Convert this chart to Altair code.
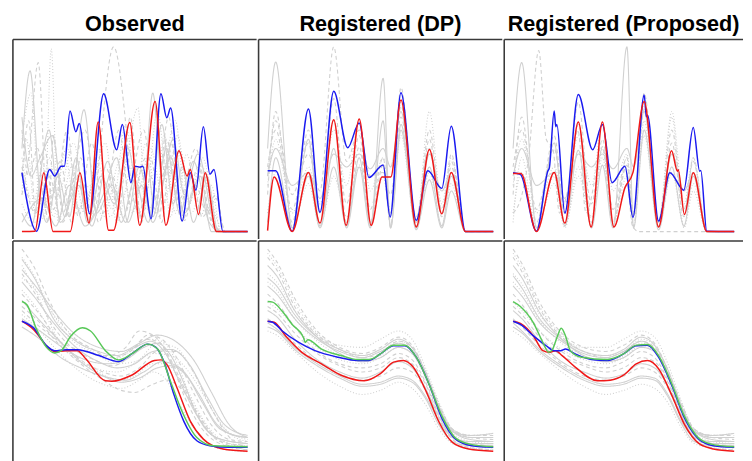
import altair as alt
import pandas as pd

# ---------------- titles ----------------
titles = ["Observed", "Registered (DP)", "Registered (Proposed)"]

# ================= TOP ROW (x 0..100, y 0..100) =================
# Observed - highlighted curves (x, y)
obs_top_blue = [(0, 31.9), (6.5, 0.2), (12.3, 33.6), (14.5, 30.1), (17.4, 35.4), (18.8, 35.4),
                (21.3, 65.3), (23.9, 54.1), (25.4, 58.5), (30.0, 9.6), (36.2, 74.6), (42.0, 44.3),
                (44.5, 58.0), (48.3, 26.5), (50.0, 35.4), (52.2, 34.9), (53.6, 35.4), (57.2, 6.9),
                (61.6, 74.6), (64.2, 61.6), (65.9, 66.9), (71.0, 5.7), (74.6, 31.9), (77.1, 22.4),
                (80.4, 56.8), (83.3, 31.0), (85.1, 33.6), (89.1, 0.0), (100, 0.0)]
obs_top_red = [(0, 0), (5.8, 0.2), (9.7, 31.9), (13.8, 0), (21.4, 0), (25.7, 31.9), (29.7, 4.6),
               (33.8, 59.4), (38.4, 0.7), (40.6, 0.7), (47.8, 59.1), (52.2, 3.4), (59.0, 70.5),
               (63.8, 3.4), (69.6, 43.8), (73.2, 30.1), (74.6, 33.6), (78.3, 9.3), (81.2, 31.9),
               (86.2, 0), (100, 0)]
# Observed - grey sample curves
obs_top_g1 = [(0, 45), (3.6, 87), (8, 20), (11, 5), (16, 30), (21, 8), (27.5, 66), (33, 10), (40, 25),
              (46, 5), (52, 35), (58, 8), (64, 45), (70, 10), (76, 38), (83, 5), (88, 0), (100, 0)]
obs_top_g2 = [(0, 20), (3, 40), (7.2, 91.5), (11.5, 5), (14, 52), (18, 10), (24, 30), (30, 5),
              (40.6, 100), (45.7, 62), (48, 30), (52, 10), (57, 40), (62, 5), (66, 48), (72, 6),
              (78, 35), (84, 5), (88, 0), (100, 0)]
obs_top_g3 = [(0, 15), (5, 5), (10, 8), (13, 99), (16, 5), (22, 35), (28, 10), (34, 45), (39, 8),
              (45, 30), (51.4, 67), (55, 12), (60, 20), (63, 52), (68, 10), (73, 42), (79, 8),
              (84, 25), (88, 0), (100, 0)]
obs_top_g4 = [(0, 62), (4, 30), (8, 40), (13.5, 52), (19, 8), (24, 40), (29, 5), (35, 30), (41, 15),
              (47, 45), (53, 8), (58, 75), (62, 30), (67, 50), (72, 20), (78, 42), (85, 5), (89, 0),
              (100, 0)]
obs_top_g5 = [(0, 55), (3, 30), (7, 45), (11, 10), (17, 38), (22, 5), (26, 40), (31, 8), (37, 35),
              (43, 12), (48, 62), (53, 5), (57, 30), (61, 8), (64, 50), (70, 15), (75, 30), (80, 8),
              (86, 20), (90, 0), (100, 0)]
obs_top_g6 = [(0, 40), (5, 15), (9, 35), (14, 8), (19, 42), (24, 10), (30, 25), (36, 8), (44, 40),
              (49, 10), (55, 48), (60, 15), (68, 60), (73, 12), (80, 35), (86, 0), (100, 0)]
obs_top_g7 = [(0, 10), (4, 3), (12, 55), (17, 5), (25, 25), (31, 3), (38, 38), (44, 5), (50, 28),
              (56, 5), (62, 58), (67, 15), (71, 35), (76, 5), (82, 30), (87, 0), (100, 0)]
obs_top_g8 = [(0, 35), (6, 10), (12, 30), (18, 5), (28, 55), (34, 5), (40, 30), (45, 8), (54, 55),
              (59, 10), (65, 35), (71, 6), (77, 25), (82, 10), (86, 18), (90, 0), (100, 0)]
obs_top_g9 = [(0, 20), (2, 50), (6, 8), (15, 28), (20, 45), (26, 10), (32, 30), (37, 48), (42, 5),
              (49, 35), (55, 20), (60, 65), (66, 8), (70, 45), (75, 10), (81, 28), (87, 0), (100, 0)]
obs_top_g10 = [(0, 5), (9, 18), (15, 3), (21, 25), (28, 3), (36, 20), (42, 40), (47, 5), (53, 25),
               (58, 5), (66, 40), (72, 10), (79, 30), (84, 0), (100, 0)]
obs_top_g11 = [(0, 30), (3, 60), (6, 10), (10, 45), (14, 12), (20, 55), (25, 8), (31, 48), (36, 10),
               (43, 55), (48, 15), (55, 40), (59, 12), (65, 62), (70, 18), (77, 45), (83, 10), (88, 0), (100, 0)]
obs_top_g12 = [(0, 50), (4, 75), (8, 15), (12, 40), (16, 20), (23, 48), (28, 15), (34, 35), (40, 12),
               (46, 58), (51, 20), (57, 45), (63, 15), (69, 52), (74, 18), (80, 40), (86, 8), (90, 0), (100, 0)]

# Registered (DP) - highlighted curves
dp_top_blue = [(0, 32.9), (3.6, 32.9), (10.9, 0.2), (18.1, 66.4), (23.2, 10.5), (29.3, 76.0),
               (35.5, 45.4), (40.6, 58.8), (44.9, 29.3), (51.2, 36.1), (54.3, 7.9), (59.1, 75.2),
               (65.9, 6.1), (71.0, 32.9), (77.2, 23.4), (81.4, 57.0), (87.7, 0), (100, 0)]
dp_top_red = [(0, 0.5), (2.9, 29.6), (10.9, 0), (18.1, 32.0), (23.2, 4.6), (29.3, 60.5), (34.8, 3.4),
              (40.6, 61.0), (45.9, 3.4), (50.7, 29.6), (54.6, 29.6), (59.1, 71.3), (65.9, 2.5),
              (71.7, 44.5), (77.2, 9.6), (81.4, 32.0), (87.7, 0), (100, 0)]
# Registered (DP) - grey curves, values at common extrema positions
dp_top_x = [0, 3.6, 10.9, 18.1, 23.2, 29.3, 35.0, 40.6, 45.5, 51.2, 54.5, 59.1, 65.9, 71.7, 77.2, 81.4, 87.7, 100]
dp_top_g1 = [45, 91.8, 2, 50, 3, 45, 2, 35, 2, 83, 2, 55, 1, 35, 3, 30, 0, 0]
dp_top_g2 = [30, 60, 20, 42, 22, 100, 38, 55, 30, 32, 20, 62, 8, 45, 10, 35, 0, 0]
dp_top_g3 = [25, 50, 10, 35, 15, 55, 25, 60, 22, 40, 10, 70, 5, 65, 15, 40, 0, 0]
dp_top_g4 = [30, 45, 25, 32, 18, 42, 35, 42, 34, 45, 35, 65, 5, 42, 22, 32, 0, 0]
dp_top_g5 = [20, 65, 5, 55, 10, 72, 5, 46, 5, 36, 3, 78, 3, 50, 8, 42, 0, 0]
dp_top_g6 = [10, 32, 3, 26, 3, 30, 8, 36, 5, 30, 10, 52, 2, 32, 3, 26, 0, 0]
dp_top_g7 = [35, 55, 12, 48, 10, 60, 15, 52, 12, 40, 8, 68, 6, 55, 12, 38, 0, 0]
dp_top_g8 = [5, 40, 2, 30, 2, 35, 3, 40, 3, 60, 2, 58, 2, 28, 2, 22, 0, 0]

# Registered (Proposed) - highlighted curves
pr_top_blue = [(0, 31.9), (3.3, 31.0), (10.6, 0.2), (15.7, 32.7), (16.4, 34.5), (18.6, 65.3),
               (19.3, 56.8), (19.8, 58.0), (23.4, 10.0), (29.5, 74.2), (36.0, 44.3), (40.4, 58.0),
               (44.8, 26.5), (50.6, 35.4), (54.2, 7.8), (59.3, 74.0), (60.3, 62.1), (60.8, 63.0),
               (65.8, 5.7), (70.9, 31.9), (77.2, 22.4), (81.5, 56.4), (84.4, 32.7), (84.9, 33.1),
               (87.6, 0.2), (100, 0)]
pr_top_red = [(0, 31.5), (3.6, 31.4), (10.6, 0), (18.6, 32.0), (23.4, 4.6), (29.5, 59.3), (35.3, 2.5),
              (40.4, 59.3), (45.6, 2.5), (50.6, 23.8), (54.2, 31.9), (59.3, 70.4), (65.8, 2.5),
              (71.7, 43.8), (74.3, 32.7), (74.7, 33.5), (77.5, 9.3), (81.5, 31.9), (87.6, 0), (100, 0)]
pr_top_x = [0, 3.9, 10.6, 18.6, 23.4, 29.5, 35.5, 40.4, 45.2, 51.5, 54.5, 59.3, 65.8, 71.8, 77.3, 81.5, 87.6, 100]
pr_top_g1 = [45, 91.5, 2, 48, 3, 44, 2, 36, 2, 100, 2, 55, 1, 35, 3, 30, 0, 0]
pr_top_g3 = [25, 50, 10, 35, 15, 52, 25, 58, 22, 42, 10, 68, 5, 65, 15, 40, 0, 0]
pr_top_g4 = [30, 45, 25, 32, 18, 42, 35, 42, 34, 45, 35, 65, 5, 42, 22, 32, 0, 0]
pr_top_g5 = [20, 62, 5, 52, 10, 70, 5, 46, 5, 36, 3, 75, 3, 48, 8, 40, 0, 0]
pr_top_g6 = [10, 32, 3, 26, 3, 30, 8, 40, 5, 30, 10, 52, 2, 32, 3, 26, 0, 0]
pr_top_g7 = [35, 55, 12, 45, 10, 58, 15, 50, 12, 40, 8, 66, 6, 55, 12, 38, 0, 0]
pr_top_g8 = [5, 40, 2, 30, 2, 35, 3, 45, 3, 40, 2, 60, 2, 62, 2, 22, 0, 0]
pr_top_g2 = [(0, 10), (4, 20), (7, 40), (11.6, 98), (15, 50), (18, 45), (21, 10), (26, 30), (29.3, 55),
             (33, 10), (40.6, 45), (45, 5), (51, 35), (54, 3), (57, 0), (100, 0)]

# ================= BOTTOM ROW (x 0..100, y 0..100) =================
obs_bot_blue = [(0, 64.8), (5.1, 61.6), (10.9, 52.8), (14.5, 50.4), (19.6, 50.9), (24.6, 50.9),
                (34.1, 48.0), (42.8, 45.1), (48.6, 48.8), (55.8, 53.6), (59.4, 52.0), (63.0, 44.8),
                (67.4, 28.8), (71.7, 16.0), (77.5, 6.4), (83.3, 4.0), (92.0, 3.2), (100, 3.2)]
obs_bot_red = [(0, 64.8), (5.1, 60.8), (12.3, 51.2), (14.5, 49.9), (19.6, 50.4), (24.6, 50.4),
               (28.3, 46.4), (37.0, 35.7), (39.9, 35.5), (48.6, 38.4), (58.7, 45.6), (61.6, 45.9),
               (64.5, 43.2), (68.8, 32.0), (74.6, 16.0), (80.4, 7.2), (89.1, 2.4), (100, 1.3)]
obs_bot_green = [(0, 74.4), (2.2, 72.8), (6.5, 60.8), (10.9, 52.0), (14.5, 49.3), (17.4, 50.4),
                 (21.7, 57.6), (26.8, 61.6), (30.4, 60.0), (37.0, 50.4), (42.8, 45.9), (48.6, 48.8),
                 (55.8, 53.6), (60.1, 51.2), (65.9, 35.2), (70.3, 22.4), (77.5, 8.0), (84.8, 4.0),
                 (100, 3.5)]
obs_bot_g1 = [(0, 95), (6, 85), (14, 66), (24, 55), (34, 50), (42, 48), (50, 52), (57, 55), (63, 50), (70, 35), (78, 18), (86, 8), (100, 5)]
obs_bot_g2 = [(0, 100), (5, 92), (12, 75), (20, 60), (30, 52), (40, 47), (48, 50), (56, 58), (62, 56), (68, 48), (76, 30), (84, 14), (92, 7), (100, 6)]
obs_bot_g3 = [(0, 80), (6, 72), (14, 58), (24, 47), (34, 40), (42, 36), (50, 38), (58, 44), (64, 44), (70, 36), (78, 20), (86, 8), (100, 3)]
obs_bot_g4 = [(0, 75), (8, 65), (16, 56), (26, 45), (36, 38), (44, 35), (52, 37), (60, 42), (66, 43), (73, 38), (80, 25), (88, 12), (100, 8)]
obs_bot_g5 = [(0, 88), (6, 78), (14, 62), (22, 52), (32, 46), (40, 43), (48, 48), (54, 56), (60, 55), (66, 45), (72, 28), (80, 12), (90, 4), (100, 2)]
obs_bot_g6 = [(0, 68), (8, 60), (16, 50), (26, 40), (36, 34), (44, 32), (52, 36), (58, 40), (64, 36), (70, 24), (78, 10), (86, 3), (100, 1)]
obs_bot_g7 = [(0, 84), (6, 76), (14, 64), (24, 52), (34, 45), (42, 42), (50, 44), (58, 50), (66, 51), (74, 44), (82, 28), (90, 14), (100, 9)]
obs_bot_g8 = [(0, 70), (8, 62), (18, 54), (28, 50), (38, 48), (46, 52), (52, 60), (58, 58), (64, 50), (72, 32), (80, 15), (88, 6), (100, 4)]
obs_bot_g9 = [(0, 92), (6, 80), (14, 60), (22, 48), (32, 42), (42, 40), (52, 46), (60, 54), (68, 52), (76, 40), (84, 22), (92, 10), (100, 6)]
obs_bot_g10 = [(0, 62), (8, 56), (16, 48), (26, 42), (36, 38), (46, 36), (54, 40), (62, 45), (70, 42), (78, 30), (86, 15), (94, 9), (100, 8)]
obs_bot_g11 = [(0, 78), (8, 68), (16, 56), (26, 46), (36, 40), (44, 38), (52, 42), (60, 50), (68, 50), (76, 40), (84, 22), (92, 8), (100, 3)]
obs_bot_g12 = [(0, 96), (6, 86), (12, 72), (20, 58), (30, 50), (40, 46), (48, 50), (56, 56), (62, 55), (68, 46), (74, 30), (82, 14), (92, 5), (100, 4)]
obs_bot_g13 = [(0, 90), (6, 82), (14, 70), (24, 58), (34, 52), (44, 50), (52, 54), (60, 58), (68, 55), (76, 46), (84, 30), (92, 14), (100, 8)]
obs_bot_g14 = [(0, 72), (8, 64), (16, 54), (26, 44), (36, 36), (44, 31), (50, 30), (58, 34), (64, 36), (72, 30), (80, 16), (88, 6), (100, 2)]
obs_bot_g15 = [(0, 86), (6, 80), (14, 68), (24, 56), (34, 48), (42, 44), (50, 45), (58, 49), (66, 48), (74, 40), (82, 26), (90, 12), (100, 7)]
obs_bot_g16 = [(0, 66), (8, 60), (18, 52), (28, 46), (38, 44), (46, 46), (54, 52), (60, 54), (66, 48), (72, 34), (78, 18), (86, 8), (100, 5)]

dp_bot_blue = [(0, 64.8), (2.2, 64.3), (6.5, 60.0), (13.8, 54.4), (21.0, 50.4), (31.2, 47.2), (39.9, 45.6),
               (44.9, 45.6), (50.0, 48.8), (55.8, 52.8), (60.9, 52.8), (65.9, 47.2), (71.7, 33.6),
               (77.5, 16.8), (83.3, 7.2), (90.6, 4.0), (100, 3.2)]
dp_bot_green = [(0, 74.4), (2.2, 74.1), (6.5, 69.6), (10.9, 63.2), (15.9, 56.8), (16.7, 54.4),
                (17.8, 55.7), (23.9, 51.2), (32.6, 48.0), (39.9, 46.1), (44.9, 46.1), (50.0, 48.8),
                (55.8, 53.1), (60.9, 53.1), (65.9, 47.2), (71.7, 33.6), (77.5, 17.9), (83.3, 7.7),
                (90.6, 4.5), (100, 3.5)]
dp_bot_red = [(0, 64.8), (2.9, 64.3), (8.0, 57.6), (15.2, 49.6), (23.9, 44.0), (32.6, 38.4), (42.8, 35.7),
              (50.0, 39.2), (55.8, 44.8), (60.1, 45.6), (64.5, 42.4), (70.3, 30.4), (76.1, 15.2),
              (81.9, 5.6), (89.1, 2.4), (100, 1.3)]
bot_x = [0, 4, 12, 22, 32, 42, 50, 58, 64, 70, 76, 82, 90, 100]
dp_bot_g1 = [82, 78, 66, 56, 50, 47, 50, 54, 50, 38, 22, 11, 7, 6]
dp_bot_g2 = [100, 94, 76, 60, 52, 49, 52, 57, 53, 40, 24, 12, 8, 7]
dp_bot_g3 = [88, 84, 70, 58, 53, 52, 56, 60, 56, 42, 25, 12, 8, 8]
dp_bot_g4 = [70, 67, 56, 46, 40, 37, 40, 45, 42, 32, 18, 8, 5, 5]
dp_bot_g5 = [78, 74, 62, 50, 44, 42, 44, 49, 46, 35, 20, 9, 5, 4]
dp_bot_g6 = [60, 58, 50, 40, 33, 29, 31, 35, 32, 24, 12, 5, 3, 2]
dp_bot_g7 = [92, 87, 70, 57, 49, 45, 47, 52, 49, 38, 22, 11, 9, 10]
dp_bot_g8 = [66, 63, 54, 45, 39, 36, 38, 42, 40, 31, 17, 7, 3, 2]
dp_bot_g9 = [74, 71, 62, 52, 46, 44, 47, 52, 49, 37, 21, 10, 6, 5]
dp_bot_g10 = [64, 61, 52, 44, 38, 34, 35, 38, 36, 28, 16, 8, 6, 6]
dp_bot_g11 = [96, 90, 72, 58, 51, 47, 49, 55, 52, 39, 23, 12, 9, 9]
dp_bot_g12 = [84, 80, 66, 55, 48, 45, 48, 54, 51, 39, 22, 10, 4, 3]
dp_bot_g13 = [86, 82, 68, 57, 51, 48, 51, 56, 52, 40, 23, 11, 8, 8]
dp_bot_g14 = [72, 69, 59, 49, 43, 40, 42, 47, 44, 34, 19, 8, 4, 3]
dp_bot_g15 = [98, 92, 74, 59, 51, 48, 50, 55, 52, 40, 24, 12, 9, 10]
dp_bot_g16 = [62, 60, 51, 43, 37, 33, 34, 37, 35, 27, 14, 6, 4, 4]

pr_bot_blue = [(0, 64.8), (3.3, 63.2), (9.2, 57.6), (15.0, 52.8), (18.6, 50.4), (21.5, 50.4),
               (23.7, 51.2), (28.1, 48.8), (35.3, 46.1), (42.6, 45.6), (49.9, 48.8), (55.7, 52.8),
               (60.8, 53.1), (65.8, 47.2), (71.7, 33.6), (77.5, 17.6), (84.0, 7.2), (90.6, 4.0), (100, 3.2)]
pr_bot_green = [(0, 74.4), (3.3, 72.0), (9.2, 64.0), (13.5, 54.4), (16.1, 49.6), (17.9, 51.2),
                (20.1, 57.6), (21.8, 61.3), (23.7, 57.6), (25.9, 50.4), (31.0, 47.2), (42.6, 46.1),
                (49.9, 48.8), (55.7, 53.1), (60.8, 53.4), (65.8, 48.0), (71.7, 34.4), (77.5, 18.4),
                (84.0, 7.7), (90.6, 4.5), (100, 3.5)]
pr_bot_red = [(0, 64.8), (3.3, 63.7), (9.2, 57.6), (13.5, 50.4), (16.3, 49.6), (19.2, 50.4), (22.2, 48.0),
              (28.1, 42.4), (38.2, 35.7), (44.0, 36.0), (49.9, 38.4), (55.7, 44.0), (60.8, 45.6),
              (65.8, 41.6), (71.7, 28.8), (77.5, 14.4), (84.0, 5.1), (90.6, 2.4), (100, 1.3)]
pr_bot_g1 = [82, 77, 64, 55, 49, 47, 50, 55, 51, 39, 22, 11, 7, 6]
pr_bot_g2 = [100, 93, 74, 59, 52, 50, 53, 58, 54, 41, 25, 12, 8, 7]
pr_bot_g3 = [88, 83, 68, 57, 52, 52, 56, 60, 57, 44, 26, 12, 8, 8]
pr_bot_g4 = [70, 66, 55, 45, 40, 37, 39, 44, 42, 33, 19, 8, 5, 5]
pr_bot_g5 = [78, 73, 60, 50, 44, 42, 45, 50, 47, 36, 20, 9, 5, 4]
pr_bot_g6 = [60, 57, 49, 40, 33, 29, 31, 34, 32, 25, 13, 5, 3, 2]
pr_bot_g7 = [92, 86, 69, 56, 48, 45, 47, 52, 50, 39, 23, 11, 9, 10]
pr_bot_g8 = [66, 62, 53, 44, 38, 36, 38, 42, 40, 32, 18, 7, 3, 2]
pr_bot_g9 = [74, 70, 60, 51, 46, 44, 47, 53, 50, 38, 21, 10, 6, 5]
pr_bot_g10 = [64, 60, 51, 43, 37, 34, 35, 38, 37, 29, 16, 8, 6, 6]
pr_bot_g11 = [96, 89, 71, 57, 50, 47, 50, 55, 52, 40, 23, 12, 9, 9]
pr_bot_g12 = [84, 79, 65, 54, 48, 45, 48, 54, 51, 39, 22, 10, 4, 3]
pr_bot_g13 = [87, 81, 66, 56, 50, 48, 51, 57, 53, 41, 24, 11, 8, 8]
pr_bot_g14 = [72, 68, 57, 48, 43, 40, 42, 47, 45, 35, 19, 8, 4, 3]
pr_bot_g15 = [98, 91, 72, 58, 50, 48, 50, 56, 53, 41, 24, 12, 9, 10]
pr_bot_g16 = [62, 59, 50, 42, 36, 33, 34, 37, 36, 28, 15, 6, 4, 4]

DASHES = ["solid", "dashed", "dotted"]

# ---------------- build long table ----------------
rows = []


def add(panel, name, kind, dash, pts):
    for i, (x, y) in enumerate(pts):
        rows.append(dict(panel=panel, curve=name, kind=kind, dash=dash, i=i, x=x, y=y))


def add_xy(panel, name, kind, dash, xs, ys):
    add(panel, name, kind, dash, list(zip(xs, ys)))


obs_top_grays = [obs_top_g1, obs_top_g2, obs_top_g3, obs_top_g4, obs_top_g5, obs_top_g6,
                 obs_top_g7, obs_top_g8, obs_top_g9, obs_top_g10, obs_top_g11, obs_top_g12]
for k, g in enumerate(obs_top_grays):
    add("t0", f"g{k}", "gray", DASHES[k % 3], g)
add("t0", "blue", "blue", "solid", obs_top_blue)
add("t0", "red", "red", "solid", obs_top_red)

dp_top_grays = [dp_top_g1, dp_top_g2, dp_top_g3, dp_top_g4, dp_top_g5, dp_top_g6, dp_top_g7, dp_top_g8]
dp_top_dash = ["solid", "dashed", "dotted", "solid", "dashed", "dotted", "dashed", "solid"]
for k, g in enumerate(dp_top_grays):
    add_xy("t1", f"g{k}", "gray", dp_top_dash[k], dp_top_x, g)
add("t1", "blue", "blue", "solid", dp_top_blue)
add("t1", "red", "red", "solid", dp_top_red)

pr_top_grays = [pr_top_g1, pr_top_g3, pr_top_g4, pr_top_g5, pr_top_g6, pr_top_g7, pr_top_g8]
pr_top_dash = ["solid", "dotted", "solid", "dashed", "dotted", "dashed", "dotted"]
for k, g in enumerate(pr_top_grays):
    add_xy("t2", f"g{k}", "gray", pr_top_dash[k], pr_top_x, g)
add("t2", "gsp", "gray", "dashed", pr_top_g2)
add("t2", "blue", "blue", "solid", pr_top_blue)
add("t2", "red", "red", "solid", pr_top_red)

obs_bot_grays = [obs_bot_g1, obs_bot_g2, obs_bot_g3, obs_bot_g4, obs_bot_g5, obs_bot_g6,
                 obs_bot_g7, obs_bot_g8, obs_bot_g9, obs_bot_g10, obs_bot_g11, obs_bot_g12,
                 obs_bot_g13, obs_bot_g14, obs_bot_g15, obs_bot_g16]
for k, g in enumerate(obs_bot_grays):
    add("b0", f"g{k}", "gray", DASHES[k % 3], g)
add("b0", "red", "red", "solid", obs_bot_red)
add("b0", "blue", "blue", "solid", obs_bot_blue)
add("b0", "green", "green", "solid", obs_bot_green)

dp_bot_grays = [dp_bot_g1, dp_bot_g2, dp_bot_g3, dp_bot_g4, dp_bot_g5, dp_bot_g6,
                dp_bot_g7, dp_bot_g8, dp_bot_g9, dp_bot_g10, dp_bot_g11, dp_bot_g12,
                dp_bot_g13, dp_bot_g14, dp_bot_g15, dp_bot_g16]
for k, g in enumerate(dp_bot_grays):
    add_xy("b1", f"g{k}", "gray", DASHES[k % 3], bot_x, g)
add("b1", "red", "red", "solid", dp_bot_red)
add("b1", "blue", "blue", "solid", dp_bot_blue)
add("b1", "green", "green", "solid", dp_bot_green)

pr_bot_grays = [pr_bot_g1, pr_bot_g2, pr_bot_g3, pr_bot_g4, pr_bot_g5, pr_bot_g6,
                pr_bot_g7, pr_bot_g8, pr_bot_g9, pr_bot_g10, pr_bot_g11, pr_bot_g12,
                pr_bot_g13, pr_bot_g14, pr_bot_g15, pr_bot_g16]
for k, g in enumerate(pr_bot_grays):
    add_xy("b2", f"g{k}", "gray", DASHES[k % 3], bot_x, g)
add("b2", "red", "red", "solid", pr_bot_red)
add("b2", "blue", "blue", "solid", pr_bot_blue)
add("b2", "green", "green", "solid", pr_bot_green)

df = pd.DataFrame(rows)
one = pd.DataFrame({"v": [0]})

GRAY = "#d0d0d0"
COLORS = {"red": "#f01818", "blue": "#1a1af0", "green": "#58c858"}
BORDER = "#3a3a3a"


def panel(pid, w, h, title=None):
    xs = alt.X("x:Q", scale=alt.Scale(domain=[-4, 104], nice=False, zero=False), axis=None)
    ys = alt.Y("y:Q", scale=alt.Scale(domain=[-4, 104], nice=False, zero=False), axis=None)
    base = alt.Chart(df).transform_filter(alt.datum.panel == pid)
    layers = [
        base.transform_filter(alt.datum.kind == "gray").mark_line(
            interpolate="monotone", color=GRAY, strokeWidth=1.1
        ).encode(
            x=xs, y=ys, detail="curve:N", order="i:Q",
            strokeDash=alt.StrokeDash("dash:N", scale=alt.Scale(domain=DASHES, range=[[1, 0], [4, 3], [1, 2]]), legend=None),
        )
    ]
    kinds = ["blue", "red"] if pid.startswith("t") else ["red", "blue", "green"]
    for kd in kinds:
        layers.append(
            base.transform_filter(alt.datum.kind == kd).mark_line(
                interpolate="monotone", color=COLORS[kd], strokeWidth=1.5
            ).encode(x=xs, y=ys, order="i:Q")
        )
    layers.append(alt.Chart(one).mark_rule(color=BORDER, strokeWidth=1.6).encode(
        x=alt.value(0), y=alt.value(0), y2=alt.value(h)))
    layers.append(alt.Chart(one).mark_rule(color=BORDER, strokeWidth=1.6).encode(
        x=alt.value(0), x2=alt.value(w), y=alt.value(0)))
    if title:
        layers.append(alt.Chart(one).mark_text(
            text=title, fontSize=22, fontWeight="bold", font="Liberation Sans", color="black",
            align="center", baseline="alphabetic"
        ).encode(x=alt.value(w / 2), y=alt.value(-8.8)))
    return alt.layer(*layers).properties(width=w, height=h)


W = [248, 248, 243]
TOP_H, BOT_H = 203, 225
top = alt.hconcat(*[panel(f"t{k}", W[k], TOP_H, titles[k]) for k in range(3)], spacing=0)
bot = alt.hconcat(*[panel(f"b{k}", W[k], BOT_H) for k in range(3)], spacing=0)
chart = alt.vconcat(top, bot, spacing=0).properties(
    padding={"left": 4, "top": 1, "right": 0, "bottom": 0}, background="white"
).configure_view(stroke=None).configure_concat(spacing=0)

chart.save("out.html", embed_options={"renderer": "svg", "actions": False})
